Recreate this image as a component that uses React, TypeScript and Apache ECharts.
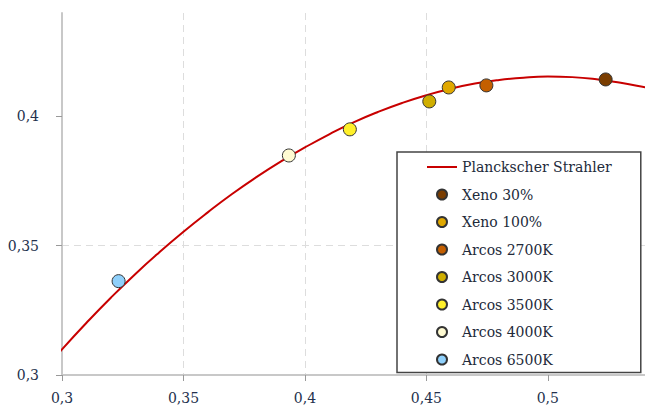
import React, { useEffect, useRef } from 'react';
import * as echarts from 'echarts';

// Planckian locus (x, y chromaticity), every 0.01 in x
const planckX = [0.29, 0.3, 0.31, 0.32, 0.33, 0.34, 0.35, 0.36, 0.37, 0.38, 0.39, 0.4, 0.41, 0.42, 0.43, 0.44, 0.45, 0.46, 0.47, 0.48, 0.49, 0.5, 0.51, 0.52, 0.53, 0.54, 0.55];
const planckY = [0.2992, 0.3099, 0.3201, 0.3298, 0.3389, 0.3474, 0.3554, 0.3629, 0.37, 0.3765, 0.3825, 0.388, 0.3931, 0.3977, 0.4017, 0.4052, 0.4082, 0.4107, 0.4127, 0.4141, 0.415, 0.4154, 0.4152, 0.4144, 0.413, 0.4113, 0.4095];

const lampNames = ['Xeno 30%', 'Xeno 100%', 'Arcos 2700K', 'Arcos 3000K', 'Arcos 3500K', 'Arcos 4000K', 'Arcos 6500K'];
const lampX = [0.5238, 0.4592, 0.4747, 0.4512, 0.4185, 0.3934, 0.3233];
const lampY = [0.4143, 0.4112, 0.412, 0.4058, 0.395, 0.3849, 0.3363];
const lampColors = ['#7a3d00', '#e0a800', '#c45f00', '#cfae00', '#fff02a', '#fffbd2', '#8fd0fb'];

const planckName = 'Planckscher Strahler';
const xTicks = [0.3, 0.35, 0.4, 0.45, 0.5];
const yTicks = [0.3, 0.35, 0.4];

const FONT = 'DejaVu Serif';
const LABEL_COLOR = '#24314d';

export default function App() {
  const ref = useRef<HTMLDivElement>(null);
  useEffect(() => {
    const chart = echarts.init(ref.current!, null, { renderer: 'svg' });
    const fmt = (v: number) => String(Math.round(v * 1000) / 1000).replace('.', ',');
    const splitLine = {
      show: true,
      showMaxLine: false,
      lineStyle: { color: '#dddddd', width: 1, type: [7, 5] as any },
    };
    const series: any[] = [
      {
        name: planckName,
        type: 'line',
        data: planckX.map((x, i) => [x, planckY[i]]),
        symbol: 'none',
        smooth: 0.5,
        clip: true,
        lineStyle: { color: '#c80000', width: 2 },
        itemStyle: { color: '#c80000' },
        z: 2,
      },
    ];
    lampNames.forEach((name, i) => {
      series.push({
        name,
        type: 'scatter',
        data: [[lampX[i], lampY[i]]],
        symbol: 'circle',
        symbolSize: 13,
        itemStyle: { color: lampColors[i], borderColor: '#333333', borderWidth: 1, opacity: 1 },
        z: 3,
      });
    });
    chart.setOption({
      animation: false,
      backgroundColor: '#ffffff',
      grid: { left: 62, right: 0, top: 13, bottom: 33, containLabel: false },
      xAxis: {
        type: 'value',
        min: 0.3,
        max: 0.54,
        interval: 0.05,
        axisLine: { show: true, lineStyle: { color: '#c8c8c8', width: 2 } },
        axisTick: { show: true, length: 6, customValues: xTicks, lineStyle: { color: '#999999' } },
        axisLabel: { customValues: xTicks, color: LABEL_COLOR, fontFamily: FONT, fontSize: 14, margin: 16, formatter: fmt },
        splitLine,
      },
      yAxis: {
        type: 'value',
        min: 0.3,
        max: 0.44,
        interval: 0.05,
        axisLine: { show: true, lineStyle: { color: '#c8c8c8', width: 2 } },
        axisTick: { show: true, length: 6, customValues: yTicks, lineStyle: { color: '#999999' } },
        axisLabel: { customValues: yTicks, color: LABEL_COLOR, fontFamily: FONT, fontSize: 14, margin: 23, formatter: fmt },
        splitLine,
      },
      legend: {
        orient: 'vertical',
        left: 397,
        top: 152,
        backgroundColor: '#ffffff',
        borderColor: '#444444',
        borderWidth: 1.5,
        borderRadius: 0,
        padding: [8, 29, 6, 29],
        itemWidth: 30,
        itemHeight: 10,
        itemGap: 13.5,
        textStyle: { fontFamily: FONT, fontSize: 14, color: '#222a3a' },
        data: [{ name: planckName, itemStyle: { opacity: 0 } }, ...lampNames],
      },
      series,
    });
    return () => chart.dispose();
  }, []);
  return <div ref={ref} style={{ position: 'absolute', left: 0, top: 0, width: 645, height: 408 }} />;
}
